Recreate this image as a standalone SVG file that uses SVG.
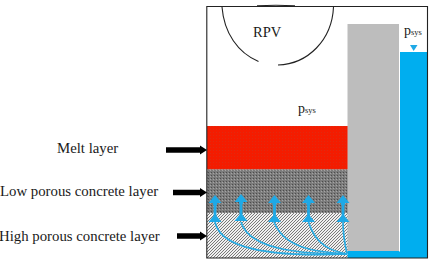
<svg xmlns="http://www.w3.org/2000/svg" width="432" height="266" viewBox="0 0 432 266">
<style>
text{font-family:"Liberation Serif","Times New Roman",serif;fill:#1a1a1a}
.lbl{font-size:14.800px}
.sub{font-size:8.500px}
.wet{fill:none;stroke:#29abe2;stroke-width:1.700}
.stem{fill:none;stroke:#1fa9e6;stroke-width:2.800}
.head{fill:#1fa9e6}
.ptr{fill:none;stroke:#000;stroke-width:5.500}
.ptrhead{fill:#000}
.vessel{fill:none;stroke:#222;stroke-width:1.100}
</style>
<defs>
<pattern id="melt" width="3" height="3" patternUnits="userSpaceOnUse">
<rect width="3" height="3" fill="#f41c00"/><rect width="1" height="1" fill="#e02a10"/>
</pattern>
<pattern id="dense" width="3" height="3" patternUnits="userSpaceOnUse">
<rect width="3" height="3" fill="#7c7c7c"/><rect x="1" y="1" width="1" height="1" fill="#4c4c4c"/><rect y="2" width="1" height="1" fill="#a4a4a4"/>
</pattern>
<pattern id="porous" width="3" height="3" patternUnits="userSpaceOnUse">
<rect width="3" height="3" fill="#f0f0f0"/><path d="M-1 1 1-1M0 3 3 0M2 4 4 2" stroke="#5a5a5a" stroke-width="0.800"/>
</pattern>
<g id="pair">
<path class="head" d="M0 0 6.500 8H2V10H-2V8H-6.500Z"/>
<path class="stem" d="M0 7V21"/>
<path class="head" d="M0 19 6.500 27H-6.500Z"/>
</g>
</defs>
<g id="melt-layer"><rect x="207" y="126" width="141" height="43.500" fill="url(#melt)"/></g>
<g id="low-porous-layer"><rect x="207" y="169.500" width="141" height="43.500" fill="url(#dense)"/></g>
<g id="high-porous-layer"><rect x="207" y="213" width="141" height="45" fill="url(#porous)"/></g>
<g id="wall"><rect x="347.500" y="24" width="51.500" height="228" fill="#bdbdbd"/></g>
<g id="water">
<path d="M400 52H427.500V258H347.500V251H399.500V252H400Z" fill="#00aeef"/>
<path d="M410 45H417.500L413.700 51Z" fill="#1fa9e6"/>
</g>
<g id="containment"><path class="vessel" d="M206.800 258V6.500H427.500V258Z" stroke-width="1.300"/></g>
<g id="rpv">
<path class="vessel" d="M222 7C224 33 238 53 258.500 61.500M278 65C308 64 332 40 333.500 7M257 5.800Q276 4.600 295 5.800" stroke-width="1.200"/>
<text x="253" y="37" font-size="14.500">RPV</text>
</g>
<g id="connectors">
<path class="wet" d="M347 254C300 256 222 256 215 222"/>
<path class="wet" d="M347 254C310 254 250 252 241 222"/>
<path class="wet" d="M347 254C320 252 285 250 274 222"/>
<path class="wet" d="M347 254C332 251 316 246 308.500 222"/>
<path class="wet" d="M347 254C345 245 343 235 343 222"/>
<use href="#pair" x="215" y="195"/>
<use href="#pair" x="241" y="194"/>
<use href="#pair" x="274.500" y="195"/>
<use href="#pair" x="308.500" y="195"/>
<use href="#pair" x="343" y="195"/>
<path class="ptr" d="M166 150H202"/><path class="ptrhead" d="M200 145.500 207 150 200 154.500Z"/>
<path class="ptr" d="M173 192.500H202"/><path class="ptrhead" d="M200 188 207 192.500 200 197Z"/>
<path class="ptr" d="M177 236H202"/><path class="ptrhead" d="M200 231.500 207 236 200 240.500Z"/>
</g>
<g id="label-psys-chamber"><text x="298" y="113" font-size="14">p<tspan class="sub">sys</tspan></text></g>
<g id="label-psys-water"><text x="404" y="35" font-size="14">p<tspan class="sub">sys</tspan></text></g>
<g id="label-melt"><text class="lbl" x="57" y="153">Melt layer</text></g>
<g id="label-low"><text class="lbl" x="0" y="196">Low porous concrete layer</text></g>
<g id="label-high"><text class="lbl" x="-1" y="241">High porous concrete layer</text></g>
</svg>
